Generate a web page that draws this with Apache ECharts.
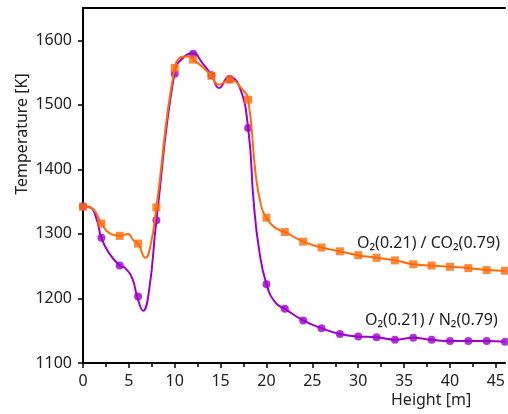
<!DOCTYPE html>
<html>
<head>
<meta charset="utf-8">
<script src="https://cdn.jsdelivr.net/npm/echarts@6/dist/echarts.min.js"></script>
<style>html,body{margin:0;padding:0;background:#fff;}#c{width:508px;height:414px;}</style>
</head>
<body>
<div id="c"></div>
<script>
// Marker data (every 2 m)
var heights = [0,2,4,6,8,10,12,14,16,18,20,22,24,26,28,30,32,34,36,38,40,42,44,46];
var tempN2  = [1343,1294,1251,1203,1321,1548,1579,1546,1540,1464,1222,1184,1166,1154,1145,1141,1140,1136,1139,1136,1134,1134,1134,1133];
var tempCO2 = [1342,1316,1297,1285,1341,1557,1570,1545,1539,1508,1325,1303,1288,1279,1273,1267,1263,1259,1253,1251,1249,1247,1244,1243];

// Smooth-curve trace
var curveN2H = [0,0.8,1.5,2,2.8,4,4.6,5.4,5.9,6.55,7.2,8,10,11,12,13,14,14.85,15.9,17,18,18.6,19.2,20,21,22,24,26,28,30,32,34,36,38,40,42,44,46];
var curveN2T = [1343,1341,1322,1294,1271,1251,1247,1230,1203,1181,1212,1321,1552,1574,1580,1565,1546,1526,1543,1530,1464,1350,1275,1222,1193,1184,1166,1154,1145,1141,1140,1136,1139,1136,1134,1134,1134,1133];
var curveCO2H = [0,0.8,1.4,2,3,4,4.9,5.5,6,6.8,7.4,8,10,11,11.5,12,13,14,14.8,16,17.3,18,18.8,19.4,20,21,22,24,26,28,30,32,34,36,38,40,42,44,46];
var curveCO2T = [1342,1341,1333,1316,1300,1297,1300,1290,1285,1263,1285,1341,1558,1575,1575,1570,1559,1545,1531,1539,1525,1508,1395,1345,1325,1309,1303,1288,1279,1273,1267,1263,1259,1253,1251,1249,1247,1244,1243];

var xTicks = [0,5,10,15,20,25,30,35,40,45];
var xMinorTicks = [2.5,7.5,12.5,17.5,22.5,27.5,32.5,37.5,42.5];
var yTicks = [1100,1200,1300,1400,1500,1600];
var labelCO2 = 'O\u2082(0.21) / CO\u2082(0.79)';
var labelN2 = 'O\u2082(0.21) / N\u2082(0.79)';
var xName = 'Height [m]';
var yName = 'Temperature [K]';

var purple = '#9E00CC';
var orange = '#FF6A0A';
var font = 'Noto Sans';
var fs = 16;

function pairs(a, b){ return a.map(function(v,i){ return [v, b[i]]; }); }

var chart = echarts.init(document.getElementById('c'), null, {renderer:'canvas'});
chart.setOption({
  animation: false,
  backgroundColor: '#fff',
  grid: {left: 83, top: 8, right: 0, bottom: 51, containLabel: false},
  xAxis: [{
    type: 'value', min: 0, max: 46, position: 'bottom',
    axisLine: {show: true, onZero: false, lineStyle: {color: '#000', width: 2}},
    axisTick: {show: true, length: 5, customValues: xTicks, lineStyle: {color: '#000', width: 1.5}},
    splitLine: {show: false},
    axisLabel: {color: '#222', fontFamily: font, fontSize: fs, margin: 10, customValues: xTicks,
                formatter: function(v){ return String(v); }}
  },{
    type: 'value', min: 0, max: 46, position: 'bottom',
    axisLine: {show: false},
    axisTick: {show: true, length: 4, customValues: xMinorTicks, lineStyle: {color: '#000', width: 1.5}},
    axisLabel: {show: false}, splitLine: {show: false}
  },{
    type: 'value', min: 0, max: 46, position: 'top',
    axisLine: {show: true, onZero: false, lineStyle: {color: '#000', width: 2}},
    axisTick: {show: false}, axisLabel: {show: false}, splitLine: {show: false}
  }],
  yAxis: {
    type: 'value', min: 1100, max: 1650,
    axisLine: {show: true, onZero: false, lineStyle: {color: '#000', width: 2}},
    axisTick: {show: true, length: 5, customValues: yTicks, lineStyle: {color: '#000', width: 1.5}},
    splitLine: {show: false},
    axisLabel: {color: '#222', fontFamily: font, fontSize: fs, margin: 11, customValues: yTicks,
                formatter: function(v){ return String(v); }}
  },
  series: [
    {type: 'line', data: pairs(curveN2H, curveN2T), smooth: 0.5, showSymbol: false,
     lineStyle: {color: purple, width: 2}, itemStyle: {color: purple}, z: 2},
    {type: 'scatter', data: pairs(heights, tempN2), symbol: 'circle', symbolSize: 8,
     itemStyle: {color: purple}, z: 3},
    {type: 'line', data: pairs(curveCO2H, curveCO2T), smooth: 0.5, showSymbol: false,
     lineStyle: {color: orange, width: 2}, itemStyle: {color: orange}, z: 4},
    {type: 'scatter', data: pairs(heights, tempCO2), symbol: 'rect', symbolSize: 8,
     itemStyle: {color: orange}, z: 5}
  ],
  graphic: [
    {type: 'text', left: 357, top: 235, style: {text: labelCO2, fill: '#222', font: fs + 'px "Noto Sans"'}},
    {type: 'text', left: 365, top: 312, style: {text: labelN2, fill: '#222', font: fs + 'px "Noto Sans"'}},
    {type: 'text', left: 391, top: 392, style: {text: xName, fill: '#222', font: fs + 'px "Noto Sans"'}},
    {type: 'text', x: 22, y: 134, rotation: Math.PI/2, style: {text: yName, fill: '#222', font: fs + 'px "Noto Sans"', align: 'center', verticalAlign: 'middle'}}
  ]
});
</script>
</body>
</html>
